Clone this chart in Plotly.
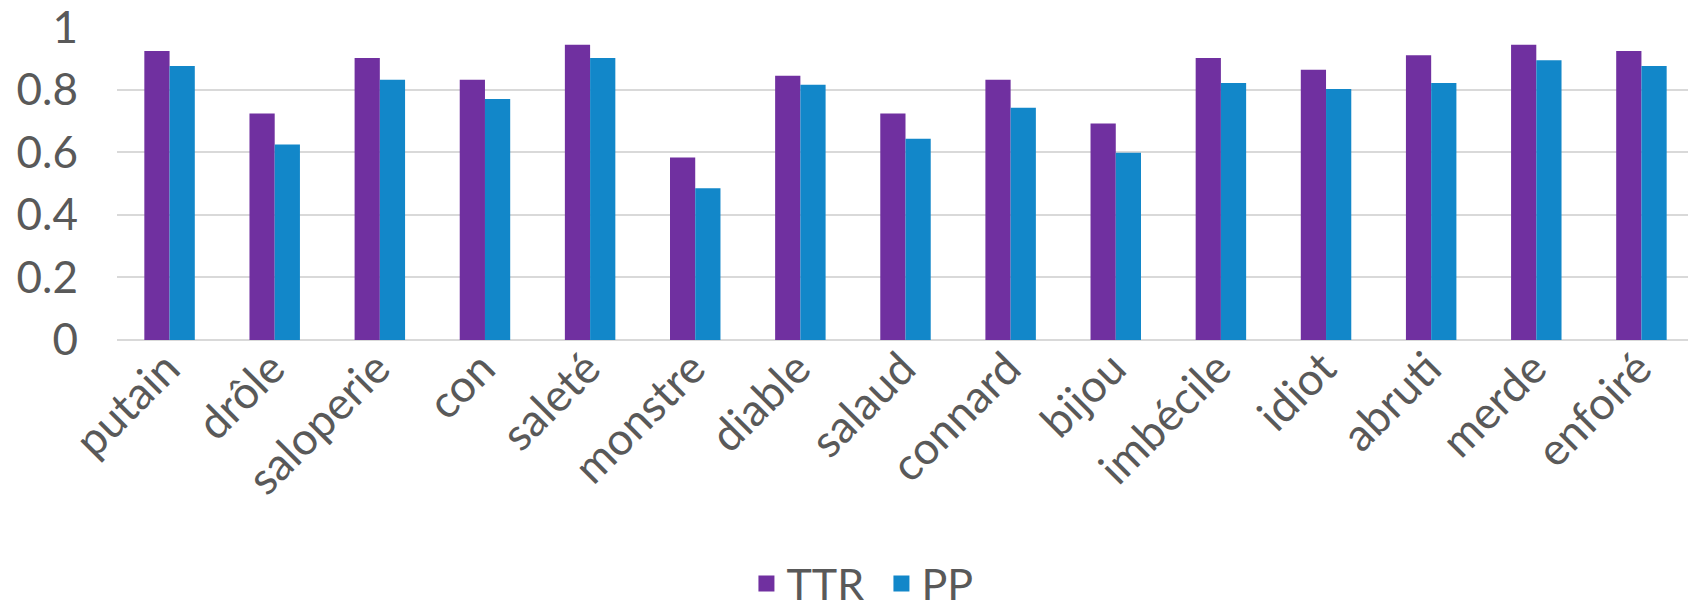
import plotly.graph_objects as go

categories = ["putain", "drôle", "saloperie", "con", "saleté", "monstre", "diable",
              "salaud", "connard", "bijou", "imbécile", "idiot", "abruti", "merde", "enfoiré"]
ttr = [0.924, 0.724, 0.902, 0.832, 0.944, 0.584, 0.845, 0.724, 0.832, 0.692,
       0.902, 0.864, 0.911, 0.944, 0.924]
pp = [0.876, 0.625, 0.832, 0.771, 0.902, 0.485, 0.816, 0.644, 0.743, 0.599,
      0.822, 0.803, 0.822, 0.895, 0.876]
y_ticks = [0, 0.2, 0.4, 0.6, 0.8, 1]
y_tick_labels = ["0", "0.2", "0.4", "0.6", "0.8", "1"]
series_names = ["TTR", "PP"]
series_colors = ["#7030A0", "#1287C9"]

FONT = "Lato"
GREY = "#595959"

fig = go.Figure()
for name, vals, col in zip(series_names, [ttr, pp], series_colors):
    fig.add_trace(go.Bar(name=name, x=categories, y=vals, marker_color=col,
                         marker_line_width=0, legendgroup=name, showlegend=False))
    # legend entry with a larger square swatch
    fig.add_trace(go.Scatter(name=name, x=[None], y=[None], mode="markers",
                             marker=dict(symbol="square", size=22, color=col),
                             legendgroup=name, showlegend=True, hoverinfo="skip"))

fig.update_layout(
    width=1696, height=610,
    margin=dict(l=109, r=10, t=19, b=278),
    plot_bgcolor="white", paper_bgcolor="white",
    barmode="group", bargap=0.52, bargroupgap=0,
    font=dict(family=FONT, color=GREY, size=42),
    showlegend=True,
    legend=dict(orientation="h", xref="container", yref="container",
                x=0.515, xanchor="center", y=-0.02, yanchor="bottom",
                font=dict(size=43, color=GREY, family=FONT), itemsizing="trace",
                traceorder="normal", entrywidth=90),
)
fig.update_xaxes(tickangle=-45, tickfont=dict(size=45, color=GREY, family=FONT),
                 showgrid=False, showline=False, ticks="", zeroline=False,
                 automargin=False, ticklabelstandoff=-8, ticklabelshift=-3,
                 ticklabeloverflow="allow")
fig.update_yaxes(range=[0, 1.001], tickvals=y_ticks, ticktext=y_tick_labels,
                 tickfont=dict(size=44, color=GREY, family=FONT),
                 showgrid=True, gridcolor="#D9D9D9", gridwidth=2,
                 zeroline=True, zerolinecolor="#D9D9D9", zerolinewidth=2,
                 showline=False, ticks="", ticklabelstandoff=38,
                 automargin=False, ticklabeloverflow="allow")

fig.write_html("out.html")
